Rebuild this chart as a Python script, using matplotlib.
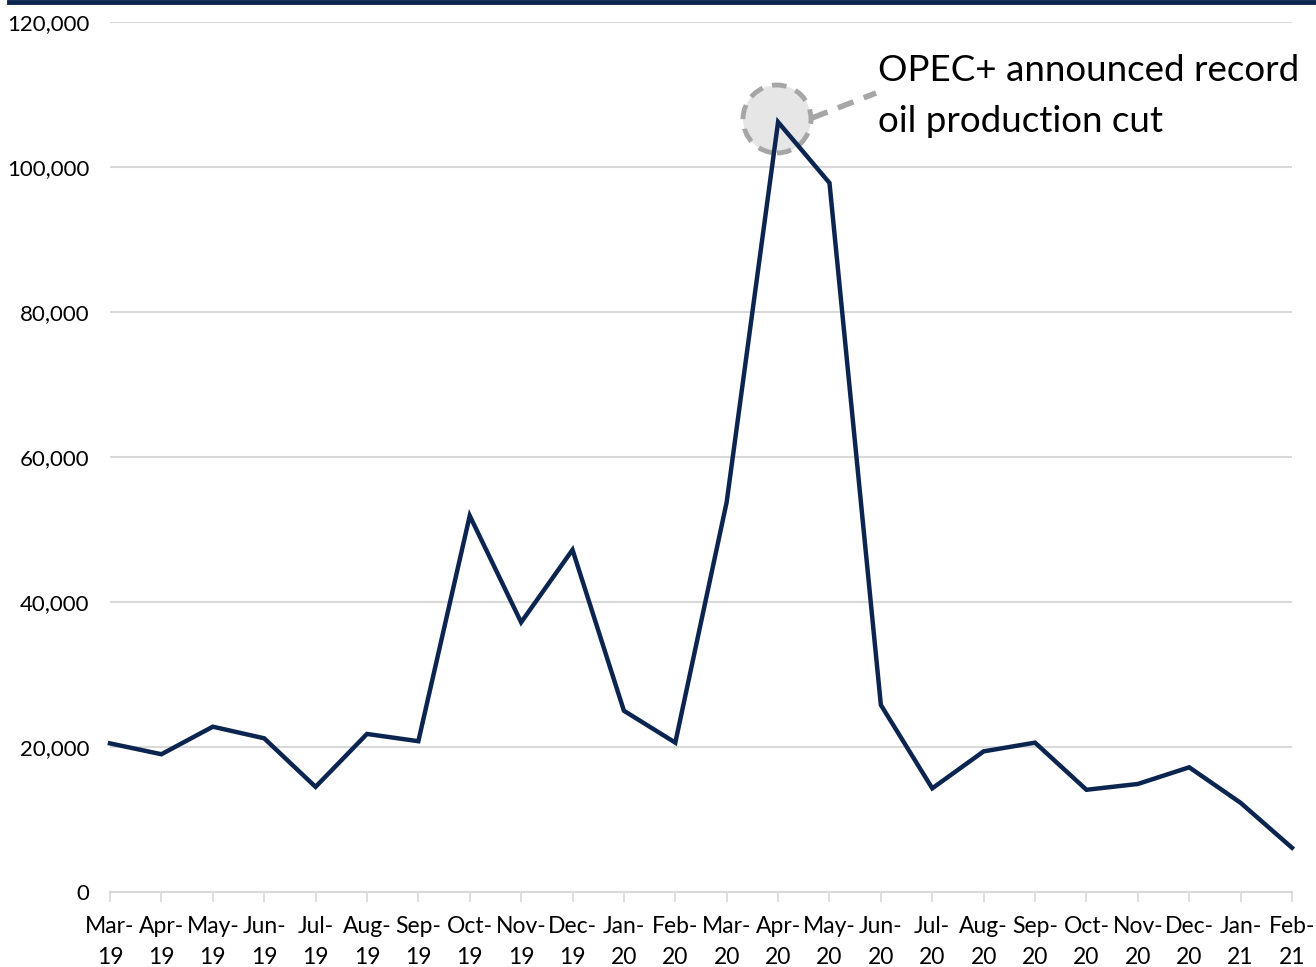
import matplotlib
matplotlib.use("Agg")
import matplotlib.pyplot as plt
from matplotlib.lines import Line2D
from matplotlib.patches import Ellipse
from matplotlib.ticker import FuncFormatter

plt.rcParams['font.family'] = ['Lato', 'DejaVu Sans']

# monthly values
months = ["Mar-\n19", "Apr-\n19", "May-\n19", "Jun-\n19", "Jul-\n19", "Aug-\n19",
          "Sep-\n19", "Oct-\n19", "Nov-\n19", "Dec-\n19", "Jan-\n20", "Feb-\n20",
          "Mar-\n20", "Apr-\n20", "May-\n20", "Jun-\n20", "Jul-\n20", "Aug-\n20",
          "Sep-\n20", "Oct-\n20", "Nov-\n20", "Dec-\n20", "Jan-\n21", "Feb-\n21"]
values = [20500, 19000, 22800, 21200, 14500, 21800, 20800, 51900, 37200, 47200,
          25000, 20600, 53800, 106200, 97800, 25800, 14300, 19400, 20600, 14100,
          14900, 17200, 12300, 6100]
y_ticks = [0, 20000, 40000, 60000, 80000, 100000, 120000]
note = "OPEC+ announced record\noil production cut"

navy = "#0b2550"
W, H = 1316, 967

fig = plt.figure(figsize=(W / 100, H / 100), dpi=100)
ax = fig.add_axes([110 / W, 75 / H, 1182 / W, 870 / H])

x = list(range(len(values)))
ax.plot(x, values, color=navy, lw=3.2, solid_joinstyle="miter", zorder=3, clip_on=False)

ax.set_xlim(0, len(values) - 1)
ax.set_ylim(0, 120000)
ax.set_yticks(y_ticks)
ax.yaxis.set_major_formatter(FuncFormatter(lambda v, p: f"{int(v):,}"))
ax.set_xticks(x)
ax.set_xticklabels(months, fontsize=16.5, linespacing=1.6)
ax.tick_params(axis="y", length=0, labelsize=16, pad=15)
ax.tick_params(axis="x", length=7, color="#d9d9d9", width=1.2, pad=10)

ax.grid(axis="y", color="#d9d9d9", lw=1.5)
ax.set_axisbelow(True)
for s in ["top", "right", "left"]:
    ax.spines[s].set_visible(False)
ax.spines["bottom"].set_color("#d9d9d9")
ax.spines["bottom"].set_linewidth(1.5)

# annotation circle and leader
ax.add_patch(Ellipse((777 / W, 1 - 119 / H), 68 / W, 68 / H, transform=fig.transFigure,
                     facecolor="#e6e6e6", edgecolor="#a6a6a6", lw=3.5, ls=(0, (3, 2)),
                     zorder=2, clip_on=False))
fig.add_artist(Line2D([812 / W, 876 / W], [1 - 118 / H, 1 - 93 / H],
                      color="#a6a6a6", lw=4, ls=(0, (3, 2))))
fig.text(878 / W, 1 - 96 / H, note, fontsize=26.5, va="center", ha="left",
         linespacing=1.65)

# top bar
fig.add_artist(Line2D([9 / W, 1], [1 - 2 / H, 1 - 2 / H], color=navy, lw=3.5))

fig.savefig("out.png", dpi=100)
